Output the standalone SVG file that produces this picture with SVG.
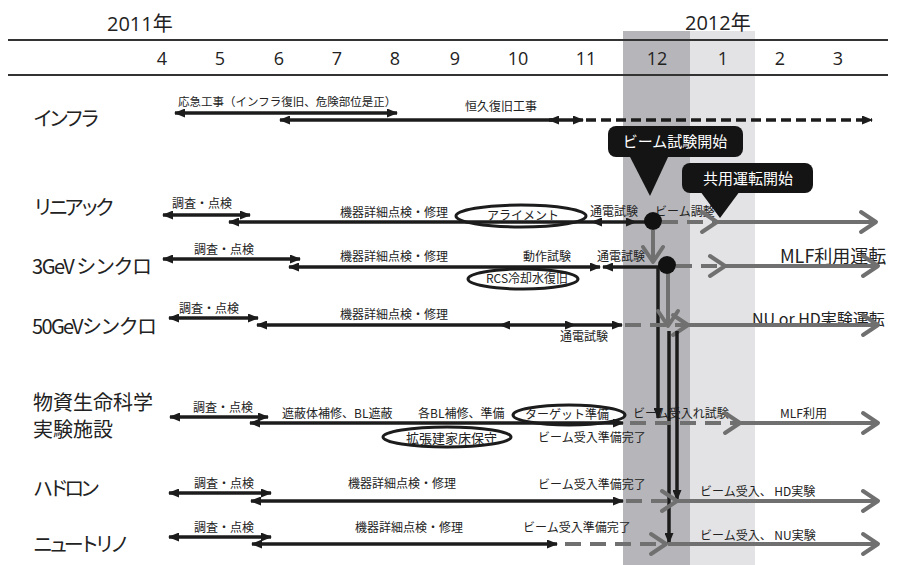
<svg xmlns="http://www.w3.org/2000/svg" width="898" height="565" viewBox="0 0 898 565">
<style>
text{font-family:"Noto Sans CJK JP","Noto Sans",sans-serif;fill:#222}
.hd{font-family:"Open Sans","Noto Sans CJK JP",sans-serif;font-size:18px;fill:#222}
.yr{font-size:20px}
.mo{text-anchor:middle}
.row{font-size:20px}
.s{font-size:12px}
.big{font-size:18px}
.cw{font-size:15px;fill:#fff;text-anchor:middle}
.bl{fill:none;stroke:#1c1c1c;stroke-width:3.5}
.bd{fill:none;stroke:#1c1c1c;stroke-width:3.5;stroke-dasharray:10 5}
.g{fill:none;stroke:#707070;stroke-width:4}
.gd{fill:none;stroke:#707070;stroke-width:4;stroke-dasharray:16 9}
.el{fill:none;stroke:#1c1c1c;stroke-width:3}
</style>
<defs>
<marker id="ah" viewBox="0 0 11 9" refX="10" refY="4.5" markerWidth="11" markerHeight="9" markerUnits="userSpaceOnUse" orient="auto-start-reverse">
<path d="M0,0 L11,4.5 L0,9 z" fill="#1c1c1c"/>
</marker>
<marker id="ch" viewBox="-18 -13 21 26" refX="0" refY="0" markerWidth="21" markerHeight="26" markerUnits="userSpaceOnUse" orient="auto">
<path d="M-15,-10 L0,0 L-15,10" fill="none" stroke="#707070" stroke-width="4" stroke-dasharray="none" stroke-linecap="round" stroke-linejoin="round"/>
</marker>
</defs>

<g id="background">
<rect x="623" y="31" width="67" height="534" fill="#b6b6ba"/>
<rect x="690" y="31" width="65" height="534" fill="#e3e3e5"/>
</g>

<g id="header">
<text class="hd yr" x="107" y="31">2011年</text>
<text class="hd yr" x="685" y="30">2012年</text>
<line x1="8" y1="40" x2="888" y2="40" stroke="#333" stroke-width="2"/>
<line x1="8" y1="75" x2="888" y2="75" stroke="#333" stroke-width="2"/>
<text class="hd mo" x="162" y="65">4</text>
<text class="hd mo" x="220" y="65">5</text>
<text class="hd mo" x="279" y="65">6</text>
<text class="hd mo" x="337" y="65">7</text>
<text class="hd mo" x="395" y="65">8</text>
<text class="hd mo" x="455" y="65">9</text>
<text class="hd mo" x="518" y="65">10</text>
<text class="hd mo" x="586" y="65">11</text>
<text class="hd mo" x="657" y="65">12</text>
<text class="hd mo" x="723" y="65">1</text>
<text class="hd mo" x="780" y="65">2</text>
<text class="hd mo" x="838" y="65">3</text>
</g>

<g id="row-infra">
<text class="row" x="33" y="126" textLength="67" lengthAdjust="spacing">インフラ</text>
<text class="s" x="178" y="106" style="font-size:11.5px">応急工事（インフラ復旧、危険部位是正）</text>
<text class="s" x="465" y="111">恒久復旧工事</text>
</g>

<g id="row-linac">
<text class="row" x="33" y="215" textLength="82" lengthAdjust="spacing">リニアック</text>
<text class="s" x="172" y="208">調査・点検</text>
<text class="s" x="340" y="217">機器詳細点検・修理</text>
<ellipse class="el" cx="521" cy="216" rx="65" ry="11"/>
<text class="s mo" x="523" y="220">アライメント</text>
<text class="s" x="590" y="216">通電試験</text>
<text class="s" x="655" y="216">ビーム調整</text>
</g>

<g id="row-3gev">
<text class="row" x="32" y="274" textLength="120" lengthAdjust="spacing">3GeV シンクロ</text>
<text class="s" x="194" y="254">調査・点検</text>
<text class="s" x="340" y="261">機器詳細点検・修理</text>
<text class="s" x="523" y="261">動作試験</text>
<text class="s" x="597" y="261">通電試験</text>
<ellipse class="el" cx="523" cy="279" rx="55" ry="10"/>
<text class="s mo" x="527" y="283">RCS冷却水復旧</text>
<text class="big" x="780" y="263">MLF利用運転</text>
</g>

<g id="row-50gev">
<text class="row" x="32" y="334" textLength="125" lengthAdjust="spacing">50GeVシンクロ</text>
<text class="s" x="179" y="313">調査・点検</text>
<text class="s" x="340" y="319">機器詳細点検・修理</text>
<text class="s" x="560" y="341">通電試験</text>
<text x="752" y="325" style="font-size:16px">NU or HD実験運転</text>
</g>

<g id="row-mlf">
<text class="row" x="33" y="410">物資生命科学</text>
<text class="row" x="33" y="437">実験施設</text>
<text class="s" x="193" y="412">調査・点検</text>
<text class="s" x="282" y="418">遮蔽体補修、BL遮蔽</text>
<text class="s" x="418" y="418">各BL補修、準備</text>
<ellipse class="el" cx="569" cy="415" rx="56" ry="10"/>
<text class="s mo" x="567" y="419">ターゲット準備</text>
<ellipse class="el" cx="447" cy="437" rx="64" ry="10"/>
<text class="s" x="406" y="443" style="font-size:13px">拡張建家床保守</text>
<text class="s" x="538" y="442">ビーム受入準備完了</text>
<text class="s" x="633" y="418">ビーム受入れ試験</text>
<text class="s" x="780" y="418">MLF利用</text>
</g>

<g id="row-hadron">
<text class="row" x="33" y="496" textLength="67" lengthAdjust="spacing">ハドロン</text>
<text class="s" x="194" y="488">調査・点検</text>
<text class="s" x="348" y="488">機器詳細点検・修理</text>
<text class="s" x="538" y="489">ビーム受入準備完了</text>
<text class="s" x="700" y="496">ビーム受入、 HD実験</text>
</g>

<g id="row-neutrino">
<text class="row" x="33" y="552" textLength="97" lengthAdjust="spacing">ニュートリノ</text>
<text class="s" x="194" y="532">調査・点検</text>
<text class="s" x="355" y="532">機器詳細点検・修理</text>
<text class="s" x="523" y="532">ビーム受入準備完了</text>
<text class="s" x="700" y="540">ビーム受入、 NU実験</text>
</g>

<g id="connectors">
<path class="bl" d="M175 113 H397" marker-start="url(#ah)" marker-end="url(#ah)"/>
<path class="bl" d="M280 120 H552" marker-start="url(#ah)"/>
<path class="bl" d="M549 120 H583" marker-start="url(#ah)" marker-end="url(#ah)"/>
<path class="bd" d="M586 120 H872" marker-end="url(#ah)"/>
<path class="bl" d="M163 215 H250" marker-start="url(#ah)" marker-end="url(#ah)"/>
<path class="bl" d="M229 222 H592" marker-start="url(#ah)"/>
<path class="bl" d="M592 222 H636" marker-start="url(#ah)" marker-end="url(#ah)"/>
<path class="bl" d="M636 222 H652"/>
<path class="gd" d="M662 222 H717" marker-end="url(#ch)"/>
<path class="g" d="M717 222 H876" marker-end="url(#ch)"/>
<path class="g" d="M653 230 V262" marker-end="url(#ch)"/>
<circle cx="653" cy="221" r="9" fill="#111"/>
<path class="bl" d="M163 259 H300" marker-start="url(#ah)" marker-end="url(#ah)"/>
<path class="bl" d="M289 267 H600" marker-start="url(#ah)" marker-end="url(#ah)"/>
<path class="bl" d="M603 267 H667" marker-start="url(#ah)"/>
<path class="bl" d="M658 267 V418" marker-end="url(#ah)"/>
<path class="gd" d="M676 266 H725" marker-end="url(#ch)"/>
<path class="g" d="M725 266 H878" marker-end="url(#ch)"/>
<path class="g" d="M668 273 V326" marker-end="url(#ch)"/>
<circle cx="667" cy="265" r="9" fill="#111"/>
<path class="bl" d="M169 318 H258" marker-start="url(#ah)" marker-end="url(#ah)"/>
<path class="bl" d="M257 325 H500" marker-start="url(#ah)"/>
<path class="bl" d="M500 325 H575" marker-start="url(#ah)" marker-end="url(#ah)"/>
<path class="bl" d="M575 325 H622" marker-end="url(#ah)"/>
<path class="gd" d="M625 325 H688" marker-end="url(#ch)"/>
<path class="g" d="M688 325 H878" marker-end="url(#ch)"/>
<path class="bl" d="M669 331 V543" marker-end="url(#ah)"/>
<path class="bl" d="M677 331 V500" marker-end="url(#ah)"/>
<path class="bl" d="M170 417 H268" marker-start="url(#ah)" marker-end="url(#ah)"/>
<path class="bl" d="M250 423 H623" marker-start="url(#ah)" marker-end="url(#ah)"/>
<path class="gd" d="M630 423 H740" marker-end="url(#ch)"/>
<path class="g" d="M740 423 H878" marker-end="url(#ch)"/>
<path class="bl" d="M169 493 H271" marker-start="url(#ah)" marker-end="url(#ah)"/>
<path class="bl" d="M251 501 H623" marker-start="url(#ah)" marker-end="url(#ah)"/>
<path class="gd" d="M626 501 H677" marker-end="url(#ch)"/>
<path class="g" d="M677 501 H878" marker-end="url(#ch)"/>
<path class="bl" d="M169 537 H271" marker-start="url(#ah)" marker-end="url(#ah)"/>
<path class="bl" d="M252 544 H557" marker-start="url(#ah)" marker-end="url(#ah)"/>
<path class="gd" d="M565 544 H666" marker-end="url(#ch)"/>
<path class="g" d="M668 544 H878" marker-end="url(#ch)"/>
</g>

<g id="callout-beam-test">
<rect x="608" y="126" width="135" height="31" rx="8" fill="#141414"/>
<polygon points="629,155 669,155 650,196" fill="#141414"/>
<text class="cw" x="675" y="147">ビーム試験開始</text>
</g>
<g id="callout-user-operation">
<rect x="682" y="163" width="131" height="30" rx="8" fill="#141414"/>
<polygon points="700,191 740,191 720,218" fill="#141414"/>
<text class="cw" x="748" y="184">共用運転開始</text>
</g>
</svg>
